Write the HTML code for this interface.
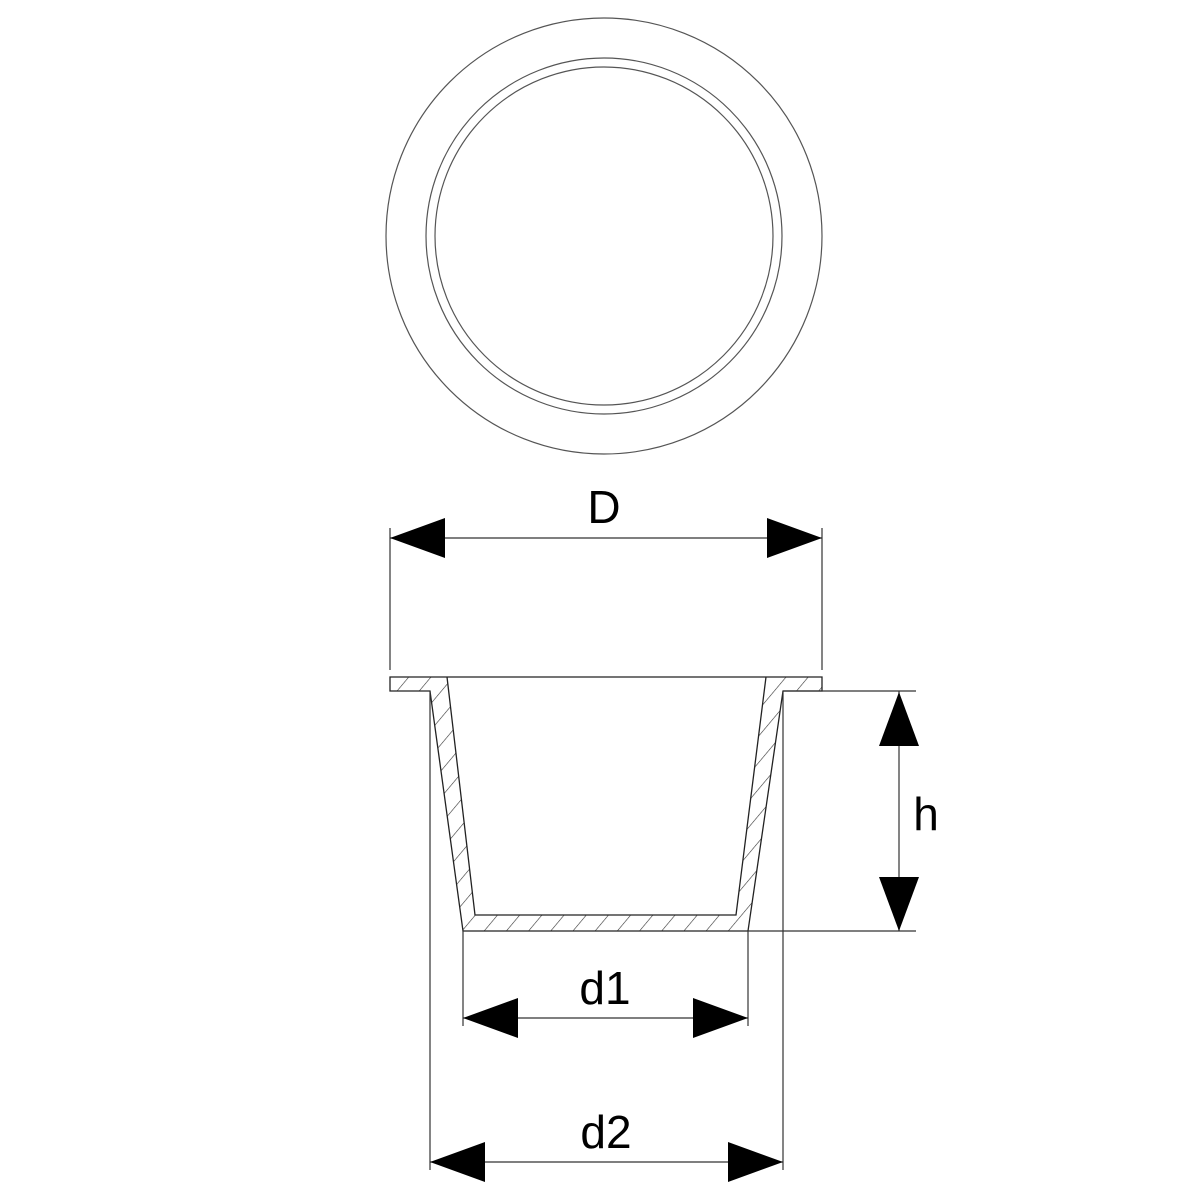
<!DOCTYPE html>
<html><head><style>body{margin:0;background:#fff}svg{display:block}</style></head><body>
<svg width="1200" height="1200" viewBox="0 0 1200 1200" xmlns="http://www.w3.org/2000/svg">
<defs>
<pattern id="h" patternUnits="userSpaceOnUse" width="17" height="17" patternTransform="rotate(40)">
<line x1="0" y1="0" x2="0" y2="17" stroke="#333" stroke-width="1.2"/>
</pattern>
</defs>
<g fill="none" stroke="#555" stroke-width="1.2">
<circle cx="604" cy="236" r="218"/>
<circle cx="604" cy="236" r="178"/>
<circle cx="604" cy="236" r="169"/>
</g>
<path d="M390 677 L822 677 L822 691 L783 691 L748 931 L463 931 L430 691 L390 691 Z M447 677 L475 915 L736 915 L766 677 Z" fill="url(#h)" fill-rule="evenodd" stroke="#222" stroke-width="1.3"/>
<g stroke="#333" stroke-width="1.2" fill="none">
<line x1="390" y1="528" x2="390" y2="670"/>
<line x1="822" y1="528" x2="822" y2="670"/>
<line x1="390" y1="538" x2="822" y2="538"/>
<line x1="783" y1="691" x2="916" y2="691"/>
<line x1="748" y1="931" x2="916" y2="931"/>
<line x1="899" y1="691" x2="899" y2="931"/>
<line x1="463" y1="931" x2="463" y2="1026"/>
<line x1="748" y1="931" x2="748" y2="1026"/>
<line x1="463" y1="1018" x2="748" y2="1018"/>
<line x1="430" y1="691" x2="430" y2="1170"/>
<line x1="783" y1="691" x2="783" y2="1170"/>
<line x1="430" y1="1162" x2="783" y2="1162"/>
</g>
<g fill="#000">
<polygon points="390,538 445,518 445,558"/>
<polygon points="822,538 767,518 767,558"/>
<polygon points="899,692 879,746 919,746"/>
<polygon points="899,931 879,877 919,877"/>
<polygon points="463,1018 518,998 518,1038"/>
<polygon points="748,1018 693,998 693,1038"/>
<polygon points="430,1162 485,1142 485,1182"/>
<polygon points="783,1162 728,1142 728,1182"/>
</g>
<g font-family="Liberation Sans, sans-serif" font-size="46" fill="#000" text-anchor="middle">
<text x="604" y="523">D</text>
<text x="926" y="830">h</text>
<text x="605" y="1004">d1</text>
<text x="606" y="1148">d2</text>
</g>
</svg>
</body></html>
